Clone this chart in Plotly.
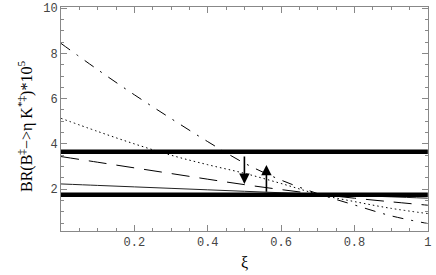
import plotly.graph_objects as go

# ---- data ----
xi = [0.0, 0.1, 0.2, 0.3, 0.4, 0.5, 0.6, 0.7, 0.8, 0.9, 1.0]
br_dashdot = [8.44, 7.28, 6.17, 5.12, 4.10, 3.15, 2.40, 1.80, 1.30, 0.82, 0.48]
br_dotted = [5.13, 4.55, 4.00, 3.50, 3.08, 2.70, 2.25, 1.78, 1.45, 1.15, 0.92]
br_dashed = [3.44, 3.19, 2.94, 2.69, 2.44, 2.20, 1.98, 1.78, 1.60, 1.44, 1.29]
br_solid = [2.23, 2.165, 2.10, 2.035, 1.97, 1.905, 1.84, 1.78, 1.72, 1.66, 1.60]

bounds = [3.65, 1.75]           # thick horizontal lines (experimental band)
arrow_x = [0.5, 0.56]
arrow_from = [3.51, 1.82]
arrow_to = [2.23, 3.07]

x_ticks = [0.2, 0.4, 0.6, 0.8, 1.0]
x_ticklabels = ["0.2", "0.4", "0.6", "0.8", "1"]
y_ticks = [2, 4, 6, 8, 10]
y_ticklabels = ["2", "4", "6", "8", "10"]

x_title = "ξ"
y_title = "BR(B<sup>‡</sup>−>η K<sup>*‡</sup>)*10<sup>5</sup>"

fig = go.Figure()

curves = [
    (br_solid, "solid", 1.0, "#222"),
    (br_dashed, "18px,10px", 1.0, "#000"),
    (br_dotted, "1.5px,3px", 1.0, "#000"),
    (br_dashdot, "11px,8px,2px,8px", 1.0, "#000"),
]
for ys, dash, w, c in curves:
    fig.add_trace(go.Scatter(x=xi, y=ys, mode="lines", line=dict(color=c, width=w, dash=dash, shape="spline"),
                             showlegend=False, hoverinfo="skip"))

for b in bounds:
    fig.add_trace(go.Scatter(x=[xi[0], xi[-1]], y=[b, b], mode="lines",
                             line=dict(color="black", width=4.5), showlegend=False, hoverinfo="skip"))

for ax_, y0, y1 in zip(arrow_x, arrow_from, arrow_to):
    fig.add_annotation(x=ax_, y=y1, ax=ax_, ay=y0, xref="x", yref="y", axref="x", ayref="y",
                       showarrow=True, arrowhead=2, arrowsize=1.3, arrowwidth=1.6, arrowcolor="black", text="")

axis_common = dict(showgrid=False, zeroline=False, showline=True, linecolor="#888", linewidth=1,
                   mirror="allticks", ticks="inside", tickcolor="#888", ticklen=6, tickwidth=1,
                   automargin=False,
                   tickfont=dict(family="Liberation Mono", size=12, color="#444"))

fig.update_xaxes(range=[0, 1.0005], tickvals=x_ticks, ticktext=x_ticklabels,
                 minor=dict(dtick=0.05, tick0=0, ticks="inside", ticklen=3, tickcolor="#888"),
                 **axis_common)
fig.update_yaxes(range=[0.15, 10.05], tickvals=y_ticks, ticktext=y_ticklabels,
                 minor=dict(dtick=0.5, tick0=0, ticks="inside", ticklen=3, tickcolor="#888"),
                 **axis_common)

fig.add_annotation(text=x_title, xref="paper", yref="paper", x=0.5, y=0, xanchor="center", yanchor="middle",
                   yshift=-31, showarrow=False, font=dict(family="Liberation Serif", size=16, color="#000"))
fig.add_annotation(text=y_title, xref="paper", yref="paper", x=0, y=0.5, xanchor="center", yanchor="middle",
                   xshift=-36, yshift=-8, textangle=-90, showarrow=False,
                   font=dict(family="Liberation Serif", size=16, color="#000"))

fig.update_layout(width=436, height=275, margin=dict(l=61, r=8, t=7, b=44),
                  plot_bgcolor="white", paper_bgcolor="white")

fig.write_html("out.html", config={"displayModeBar": False},
               post_script="document.body.style.margin='0px';document.body.style.overflow='hidden';")
